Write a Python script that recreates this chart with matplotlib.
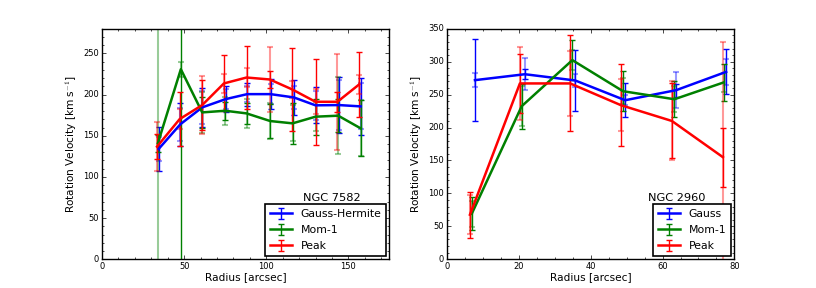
import matplotlib
matplotlib.use("Agg")
import matplotlib.pyplot as plt
from matplotlib.ticker import MultipleLocator

plt.style.use("classic")
plt.rcParams["figure.facecolor"] = "white"
plt.rcParams["savefig.facecolor"] = "white"
plt.rcParams["font.family"] = "DejaVu Sans"

# NGC 7582
r1_gh = [34.5, 47.7, 61.0, 75.2, 88.4, 102.6, 116.8, 130.0, 144.3, 157.5]
v1_gh = [134, 164, 184.5, 194.5, 200.6, 200.6, 196.6, 187, 187.3, 185.7]
e1_gh = [27, 26, 24, 16, 14, 18, 21, 22, 34, 35]
e1_gh_b = [15, 20, 20, 12, 10, 12, 14, 18, 30, 28]

r1_m1 = [34.0, 48.0, 61.0, 75.0, 88.0, 102.4, 116.0, 130.0, 143.8, 157.5]
v1_m1 = [140.8, 230.9, 178.4, 180.4, 177.2, 167.9, 165.1, 173.2, 174.4, 159]
e1_m1 = [10, 300, 19, 11, 13, 21, 25, 22, 20, 34]
e1_m1_b = [300, 9, 25, 17, 18, 22, 22, 18, 47, 34]

r1_pk = [33.5, 47.3, 61.0, 74.2, 88.0, 102.2, 115.8, 130.0, 143.3, 156.5]
v1_pk = [136.8, 170.3, 187.3, 213.6, 220.8, 218.4, 206.3, 191.3, 191.3, 212.3]
e1_pk = [15, 33, 30, 34, 38, 10, 50, 52, 12, 40]
e1_pk_b = [30, 12, 35, 12, 12, 40, 10, 15, 58, 12]

# NGC 2960
r2_g = [7.8, 21.7, 35.7, 49.6, 63.8, 77.7]
v2_g = [272, 281, 271.5, 241.5, 256.8, 284.6]
e2_g = [62, 8, 47, 26, 10, 34]
e2_g_b = [11, 24, 10, 8, 27, 20]

r2_m1 = [6.9, 20.8, 34.9, 49.0, 63.3, 77.0]
v2_m1 = [69, 232.4, 302.4, 255.2, 243, 268.5]
e2_m1 = [25, 34, 30, 30, 27, 28]
e2_m1_b = [20, 30, 15, 20, 20, 15]

r2_pk = [6.4, 20.3, 34.3, 48.4, 62.6, 76.8]
v2_pk = [67.6, 267, 267, 234, 210, 155]
e2_pk = [35, 45, 73, 62, 57, 45]
e2_pk_b = [30, 55, 50, 40, 60, 175]

fig, (ax1, ax2) = plt.subplots(1, 2, figsize=(8.16, 2.88), dpi=100)


def draw(ax, r, v, e, eb, col, lab):
    ax.errorbar(r, v, yerr=e, color=col, lw=1.8, elinewidth=1, capsize=2.5,
                mew=1, label=lab)
    ax.errorbar(r, v, yerr=eb, fmt="none", ecolor=col, alpha=0.4,
                elinewidth=1.5, capsize=2.5, mew=1.5)


draw(ax1, r1_gh, v1_gh, e1_gh, e1_gh_b, "b", "Gauss-Hermite")
draw(ax1, r1_m1, v1_m1, e1_m1, e1_m1_b, "g", "Mom-1")
draw(ax1, r1_pk, v1_pk, e1_pk, e1_pk_b, "r", "Peak")

draw(ax2, r2_g, v2_g, e2_g, e2_g_b, "b", "Gauss")
draw(ax2, r2_m1, v2_m1, e2_m1, e2_m1_b, "g", "Mom-1")
draw(ax2, r2_pk, v2_pk, e2_pk, e2_pk_b, "r", "Peak")

ax1.set_xlim(0, 175)
ax1.set_ylim(0, 280)
ax1.xaxis.set_major_locator(MultipleLocator(50))
ax1.xaxis.set_minor_locator(MultipleLocator(10))
ax1.yaxis.set_major_locator(MultipleLocator(50))
ax1.yaxis.set_minor_locator(MultipleLocator(10))

ax2.set_xlim(0, 80)
ax2.set_ylim(0, 350)
ax2.xaxis.set_major_locator(MultipleLocator(20))
ax2.xaxis.set_minor_locator(MultipleLocator(5))
ax2.yaxis.set_major_locator(MultipleLocator(50))
ax2.yaxis.set_minor_locator(MultipleLocator(10))

for ax, name in [(ax1, "NGC 7582"), (ax2, "NGC 2960")]:
    ax.set_xlabel("Radius [arcsec]", fontsize=7.6, labelpad=1)
    ax.set_ylabel(r"Rotation Velocity [km s$^{-1}$]", fontsize=7.6, labelpad=3)
    ax.tick_params(labelsize=6, which="major", length=3, pad=2)
    ax.tick_params(which="minor", length=1.5)
    ax.text(0.80, 0.267, name, transform=ax.transAxes, ha="center",
            va="center", fontsize=8.2)
    leg = ax.legend(loc="lower right", fontsize=7.8, numpoints=1,
                    borderaxespad=0.3, handlelength=2.0, labelspacing=0.55,
                    borderpad=0.45)
    leg.get_frame().set_edgecolor("black")
    leg.get_frame().set_linewidth(1.2)

plt.savefig("out.png", dpi=100)
